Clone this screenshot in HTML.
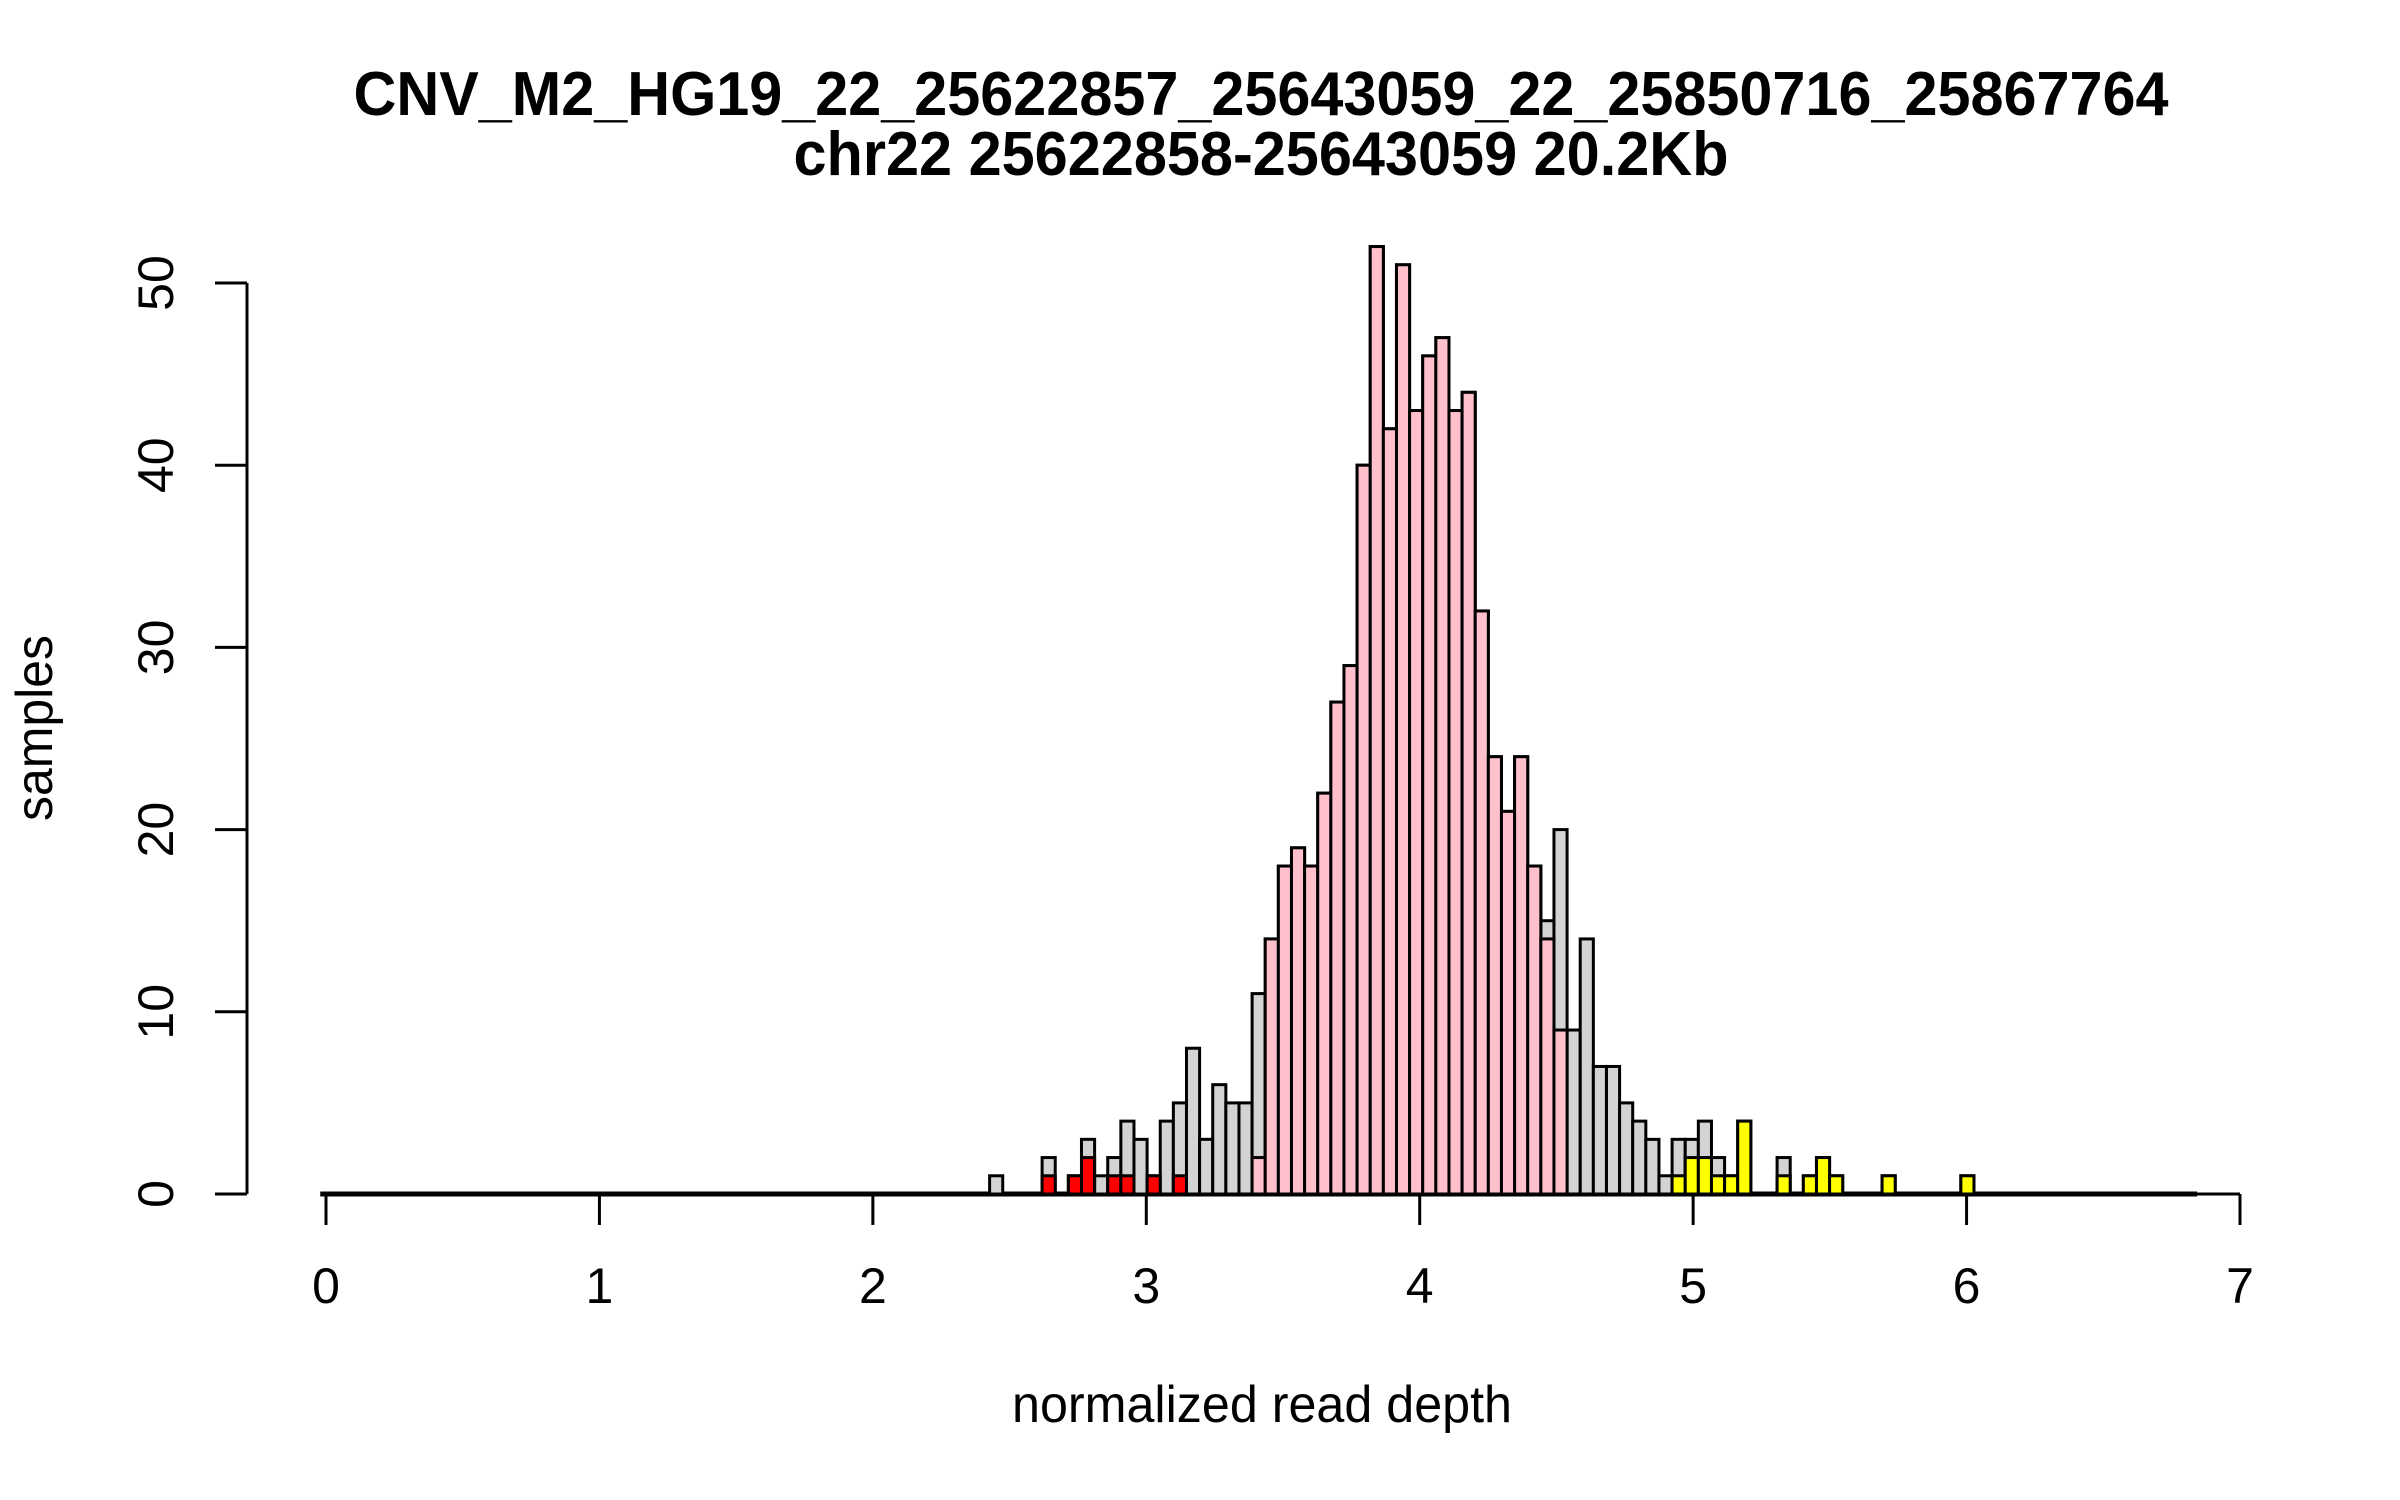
<!DOCTYPE html>
<html><head><meta charset="utf-8"><style>
html,body{margin:0;padding:0;background:#fff}
svg{display:block}
text{font-family:"Liberation Sans",Arial,sans-serif;fill:#000}
</style></head><body>
<svg id="chart" width="2400" height="1500" viewBox="0 0 2400 1500" xmlns="http://www.w3.org/2000/svg">
<rect width="2400" height="1500" fill="#fff"/>
<text x="1261" y="115" font-size="62" font-weight="bold" text-anchor="middle" textLength="1815" lengthAdjust="spacingAndGlyphs">CNV_M2_HG19_22_25622857_25643059_22_25850716_25867764</text>
<text x="1261" y="175" font-size="62" font-weight="bold" text-anchor="middle" textLength="935" lengthAdjust="spacingAndGlyphs">chr22 25622858-25643059 20.2Kb</text>
<text x="1262" y="1422" font-size="52" text-anchor="middle" textLength="500" lengthAdjust="spacingAndGlyphs">normalized read depth</text>
<text transform="translate(52,728) rotate(-90)" font-size="52" text-anchor="middle" textLength="186" lengthAdjust="spacingAndGlyphs">samples</text>
<g id="bars"></g>
<g id="axes"></g>
</svg>
<script>
// Data (bins start at binStart with width binWidth)
const binStart = 2.427;
const binWidth = 0.048;
const fullStart = -0.021;
const fullBins = 143;
const allCounts = [1,0,0,0,2,0,1,3,1,2,4,3,1,4,5,8,3,6,5,5,11,14,18,19,18,22,27,29,40,52,42,51,43,46,47,43,44,32,24,21,24,18,15,20,9,14,7,7,5,4,3,1,3,3,4,2,1,4,0,0,2,0,1,2,1,0,0,0,1,0,0,0,0,0,1];
const pinkCounts = [0,0,0,0,0,0,0,0,0,0,0,0,0,0,0,0,0,0,0,0,2,14,18,19,18,22,27,29,40,52,42,51,43,46,47,43,44,32,24,21,24,18,14,9];
const redCounts = [0,0,0,0,1,0,1,2,0,1,1,0,1,0,1];
const yellowCounts = [0,0,0,0,0,0,0,0,0,0,0,0,0,0,0,0,0,0,0,0,0,0,0,0,0,0,0,0,0,0,0,0,0,0,0,0,0,0,0,0,0,0,0,0,0,0,0,0,0,0,0,0,1,2,2,1,1,4,0,0,1,0,1,2,1,0,0,0,1,0,0,0,0,0,1];
const xTicks = [0,1,2,3,4,5,6,7];
const yTicks = [0,10,20,30,40,50];

const NS = "http://www.w3.org/2000/svg";
function xs(v){ return 326 + (v - 0) * (2240 - 326) / 7; }
function ys(v){ return 1194 - v * (1194 - 283) / 50; }
const bars = document.getElementById('bars');
const axes = document.getElementById('axes');

function mk(tag, attrs, parent){
  const e = document.createElementNS(NS, tag);
  for (const k in attrs) e.setAttribute(k, attrs[k]);
  parent.appendChild(e);
  return e;
}

const bl = mk('line', {x1: xs(fullStart), x2: xs(fullStart + fullBins * binWidth), y1: ys(0), y2: ys(0), stroke: '#000', 'stroke-width': 5}, bars);



function drawSeries(arr, fill, name){
  arr.forEach(function(c, i){
    if (c <= 0) return;
    const x0 = xs(binStart + i * binWidth), x1 = xs(binStart + (i + 1) * binWidth);
    const r = mk('rect', {x: x0, y: ys(c), width: x1 - x0, height: ys(0) - ys(c), fill: fill, stroke: '#000', 'stroke-width': 3}, bars);
    
    
  });
}
drawSeries(allCounts, '#d3d3d3', 'all');
drawSeries(pinkCounts, '#ffc0cb', 'normal');
drawSeries(redCounts, '#ff0000', 'deletion');
drawSeries(yellowCounts, '#ffff00', 'duplication');

const xa = mk('line', {x1: xs(xTicks[0]), x2: xs(xTicks[xTicks.length-1]), y1: 1194, y2: 1194, stroke: '#000', 'stroke-width': 3}, axes);


xTicks.forEach(function(t){
  const l = mk('line', {x1: xs(t), x2: xs(t), y1: 1194, y2: 1225, stroke: '#000', 'stroke-width': 3}, axes);
  
  
  const tx = mk('text', {x: xs(t), y: 1303, 'font-size': 50, 'text-anchor': 'middle'}, axes);
  tx.textContent = String(t);
  
  
});
const ya = mk('line', {x1: 247, x2: 247, y1: ys(yTicks[0]), y2: ys(yTicks[yTicks.length-1]), stroke: '#000', 'stroke-width': 3}, axes);


yTicks.forEach(function(t){
  const l = mk('line', {x1: 215, x2: 247, y1: ys(t), y2: ys(t), stroke: '#000', 'stroke-width': 3}, axes);
  
  
  const tx = mk('text', {transform: 'translate(173,' + ys(t) + ') rotate(-90)', 'font-size': 50, 'text-anchor': 'middle'}, axes);
  tx.textContent = String(t);
  
  
});
</script>
</body></html>
